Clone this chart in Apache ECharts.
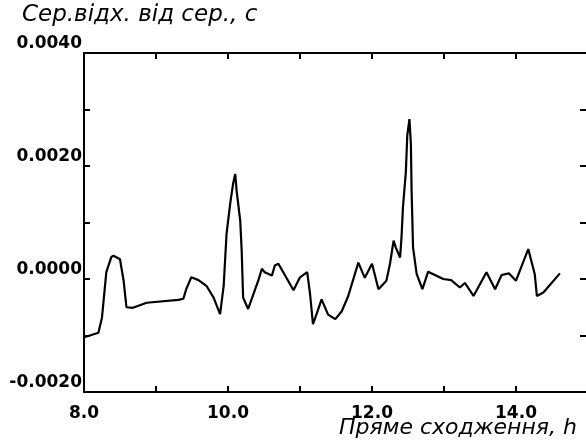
<!DOCTYPE html>
<html>
<head>
<meta charset="utf-8">
<script src="https://cdn.jsdelivr.net/npm/echarts@6/dist/echarts.min.js"></script>
<style>
  html, body { margin: 0; padding: 0; background: #fff; }
  #chart { width: 586px; height: 446px; }
</style>
</head>
<body>
<div id="chart"></div>
<script>
// right ascension, h
const ra = [
  8.00, 8.08, 8.20, 8.25, 8.31, 8.38, 8.41, 8.50, 8.55, 8.59,
  8.68, 8.87, 9.31, 9.38, 9.42, 9.49, 9.59, 9.70, 9.80, 9.89,
  9.94, 9.98, 10.03, 10.07, 10.10, 10.12, 10.17, 10.19, 10.21, 10.28,
  10.42, 10.47, 10.51, 10.61, 10.65, 10.70, 10.91, 11.00, 11.10, 11.14,
  11.18, 11.23, 11.30, 11.39, 11.49, 11.58, 11.67, 11.81, 11.90, 12.00,
  12.09, 12.20, 12.25, 12.30, 12.33, 12.39, 12.41, 12.43, 12.47, 12.49,
  12.52, 12.54, 12.55, 12.57, 12.62, 12.70, 12.78, 12.99, 13.10, 13.22,
  13.29, 13.41, 13.59, 13.71, 13.80, 13.90, 14.00, 14.17, 14.26, 14.29,
  14.38, 14.61
];

// standard deviation from mean, s
const dev = [
  -0.00103, -0.00100, -0.00095, -0.00068, 0.00012, 0.00039, 0.00041, 0.00035, -0.00003, -0.00050,
  -0.00051, -0.00042, -0.00037, -0.00035, -0.00018, 0.00003, -0.00002, -0.00012, -0.00033, -0.00062,
  -0.00012, 0.00080, 0.00133, 0.00168, 0.00186, 0.00156, 0.00103, 0.00050, -0.00033, -0.00053,
  -0.00003, 0.00018, 0.00012, 0.00006, 0.00024, 0.00027, -0.00020, 0.00003, 0.00012, -0.00027,
  -0.00080, -0.00062, -0.00036, -0.00063, -0.00071, -0.00057, -0.00030, 0.00029, 0.00002, 0.00027,
  -0.00018, -0.00003, 0.00027, 0.00068, 0.00056, 0.00038, 0.00074, 0.00127, 0.00189, 0.00254,
  0.00283, 0.00239, 0.00156, 0.00056, 0.00009, -0.00018, 0.00013, 0.00000, -0.00002, -0.00015,
  -0.00007, -0.00030, 0.00012, -0.00018, 0.00007, 0.00010, -0.00003, 0.00053, 0.00009, -0.00030,
  -0.00024, 0.00010
];

const xTicks = [8, 10, 12, 14];
const yTicks = [-0.002, 0, 0.002, 0.004];

const chart = echarts.init(document.getElementById('chart'));

const font = { fontFamily: 'DejaVu Sans', fontSize: 17, fontWeight: 'bold', color: '#000' };
const axisLine = { show: true, onZero: false, lineStyle: { color: '#000', width: 2 } };
const tick = (len) => ({ show: true, inside: true, length: len, lineStyle: { color: '#000', width: 2 } });

const option = {
  animation: false,
  backgroundColor: '#fff',
  title: [
    {
      text: 'Сер.відх. від сер., с',
      left: 22, top: 4, padding: 0,
      textStyle: { fontFamily: 'DejaVu Sans', fontStyle: 'italic', fontWeight: 'normal', fontSize: 23, color: '#000' }
    },
    {
      text: 'Пряме сходження, h',
      right: 9, top: 417, padding: 0,
      textStyle: { fontFamily: 'DejaVu Sans', fontStyle: 'italic', fontWeight: 'normal', fontSize: 22, color: '#000' }
    }
  ],
  grid: { left: 84, top: 53, width: 504, height: 339, outerBoundsMode: 'none' },
  xAxis: [
    {
      type: 'value', min: 8, max: 15, interval: 1, position: 'bottom',
      axisLine: axisLine, axisTick: tick(6), splitLine: { show: false },
      axisLabel: Object.assign({
        margin: 13,
        formatter: (v) => xTicks.includes(v) ? v.toFixed(1) : ''
      }, font)
    },
    {
      type: 'value', min: 8, max: 15, interval: 1, position: 'top',
      axisLine: axisLine, axisTick: tick(6), splitLine: { show: false },
      axisLabel: { show: false }
    }
  ],
  yAxis: [
    {
      type: 'value', min: -0.002, max: 0.004, interval: 0.001, position: 'left',
      axisLine: axisLine, axisTick: tick(6), splitLine: { show: false },
      axisLabel: Object.assign({
        margin: 2,
        verticalAlign: 'bottom',
        padding: [0, 0, 1, 0],
        formatter: (v) => yTicks.some(t => Math.abs(t - v) < 1e-9) ? v.toFixed(4) : ''
      }, font)
    },
    {
      type: 'value', min: -0.002, max: 0.004, interval: 0.001, position: 'right',
      axisLine: axisLine, axisTick: tick(8), splitLine: { show: false },
      axisLabel: { show: false }
    }
  ],
  series: [
    {
      type: 'line',
      data: ra.map((x, i) => [x, dev[i]]),
      showSymbol: false,
      lineStyle: { color: '#000', width: 2.2 }
    }
  ]
};

chart.setOption(option);
</script>
</body>
</html>
